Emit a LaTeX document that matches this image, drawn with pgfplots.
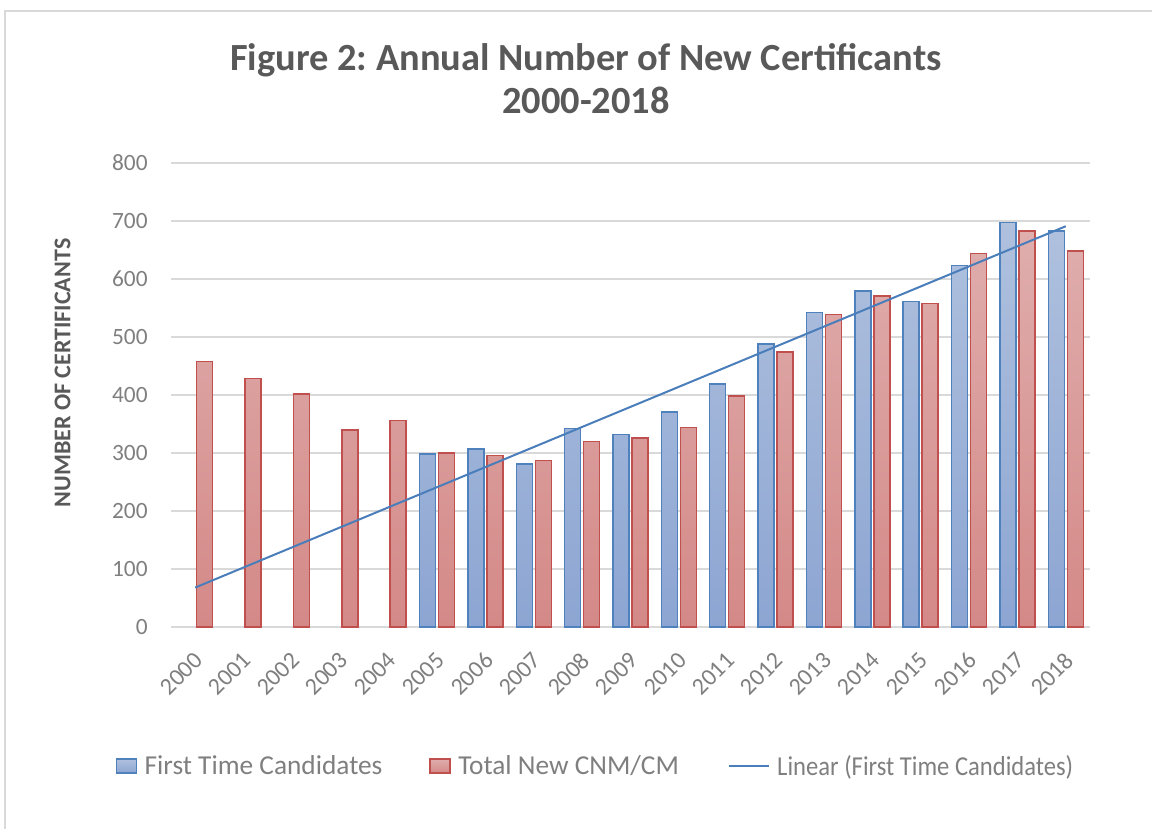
\documentclass[border=0pt]{standalone}
\usepackage{pgfplots}
\pgfplotsset{compat=1.18}
\usepackage{fontspec}
\setmainfont{Carlito}
\frenchspacing
\definecolor{gridgray}{HTML}{D9D9D9}
\definecolor{txtgray}{HTML}{595959}
\definecolor{tickgray}{HTML}{7F7F7F}
\definecolor{bedge}{HTML}{4F81BD}
\definecolor{btop}{HTML}{B0C1DE}
\definecolor{bbot}{HTML}{8CA5D2}
\definecolor{redge}{HTML}{C0504D}
\definecolor{rtop}{HTML}{DFAEAD}
\definecolor{rbot}{HTML}{D48987}
\definecolor{trend}{HTML}{4A7EBB}
\pgfplotsset{
  barleg/.style={legend image code/.code={\draw[##1] (0pt,-5.25pt) rectangle (15pt,5.25pt);}},
  lineleg/.style={legend image code/.code={\draw[##1] (0pt,0pt) -- (30pt,0pt);}},
}
\begin{document}
\begin{tikzpicture}[x=1pt,y=1pt]
\useasboundingbox (0,0) rectangle (864,621);
\draw[gridgray, line width=1.1pt] (3.75,-20) -- (3.75,612.75) -- (900,612.75);
\node[font=\fontsize{28.8}{32.25}\selectfont\bfseries, text=txtgray, align=center] at (439.5,562) {Figure 2: Annual Number of New Certificants\\2000-2018};
\node[font=\fontsize{18}{20}\selectfont\bfseries, text=txtgray, rotate=90] at (47,341.25) {NUMBER OF CERTIFICANTS};
\begin{axis}[
  at={(128.25pt,150.75pt)}, anchor=south west,
  width=689.25pt, height=348pt, scale only axis,
  xmin=-0.5, xmax=18.5, ymin=0, ymax=800,
  axis lines*=left,
  y axis line style={draw=none},
  x axis line style={draw=gridgray, line width=1.1pt, -},
  tick style={draw=none},
  ymajorgrids, grid style={gridgray, line width=1.1pt},
  ytick={0,100,...,800},
  xtick={0,...,18},
  xticklabels={2000,2001,2002,2003,2004,2005,2006,2007,2008,2009,2010,2011,2012,2013,2014,2015,2016,2017,2018},
  xticklabel style={rotate=45, anchor=north east, font=\fontsize{18}{20}\selectfont, text=tickgray, xshift=-10.3pt, yshift=-7.9pt},
  yticklabel style={font=\fontsize{17.5}{20}\selectfont, text=tickgray, xshift=-14pt},
  /pgf/number format/assume math mode=true,
  legend columns=3,
  legend style={at={(-0.065,-0.2996)}, anchor=west, draw=none, fill=none,
    font=\fontsize{20.5}{22}\selectfont, text=tickgray,
    /tikz/every odd column/.append style={column sep=3.75pt},
    /tikz/column 2/.append style={column sep=33pt},
    /tikz/column 4/.append style={column sep=34.5pt}},
]
\addplot[ybar, bar width=12pt, bar shift=-7.125pt, draw=bedge, line width=1.1pt,
  top color=btop, bottom color=bbot, barleg]
  coordinates {(5,298) (6,307) (7,281) (8,342) (9,332) (10,371) (11,419) (12,488) (13,542) (14,579) (15,561) (16,623) (17,697) (18,683)};
\addlegendentry{First Time Candidates}
\addplot[ybar, bar width=12pt, bar shift=7.125pt, draw=redge, line width=1.1pt,
  top color=rtop, bottom color=rbot, barleg]
  coordinates {(0,458) (1,428) (2,402) (3,340) (4,356) (5,300) (6,296) (7,287) (8,320) (9,326) (10,344) (11,398) (12,474) (13,539) (14,571) (15,558) (16,644) (17,683) (18,648)};
\addlegendentry{Total New CNM/CM}
\addplot[trend, line width=1.5pt, mark=none, lineleg]
  coordinates {(0,68) (18,691)};
\addlegendentry{\scalebox{0.9}[1]{Linear (First Time Candidates)}}
\end{axis}
\end{tikzpicture}
\end{document}
